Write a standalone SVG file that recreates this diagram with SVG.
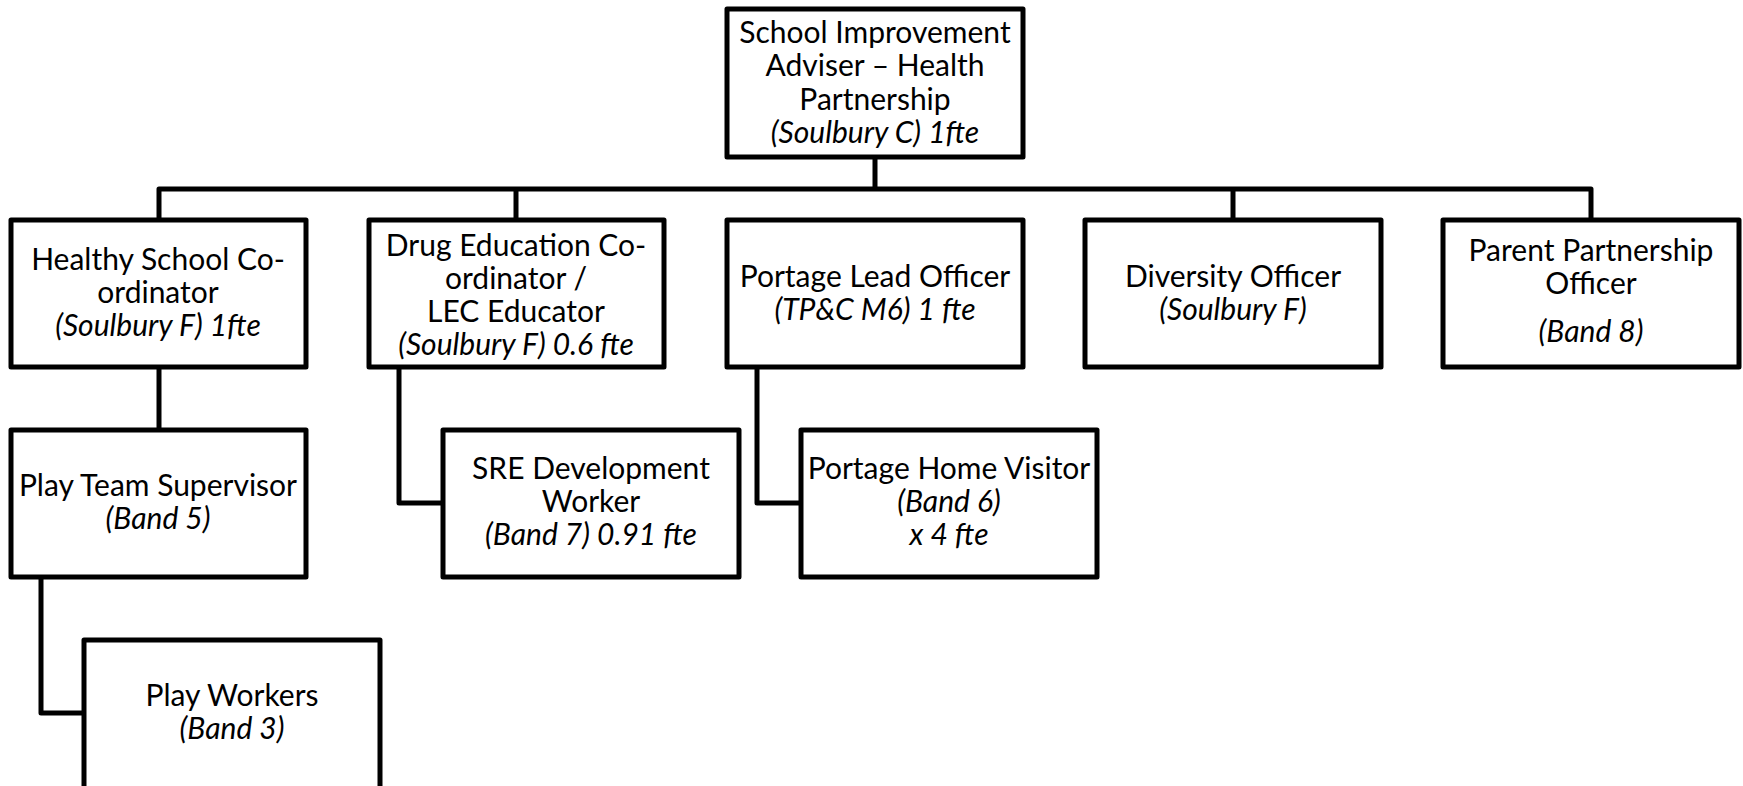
<svg xmlns="http://www.w3.org/2000/svg" width="1743" height="786" viewBox="0 0 1743 786">
<style>
.box{fill:#fff;stroke:#000;stroke-width:5;stroke-linejoin:round}
.ln{fill:none;stroke:#000;stroke-width:5;stroke-linejoin:round}
text{font-family:Lato,"Open Sans",sans-serif;font-size:30px;fill:#000;text-anchor:middle}
.i{font-style:italic}
</style>
<rect width="1743" height="786" fill="#fff"/>
<g id="connectors">
<path class="ln" d="M875,157 V189 M159,220 V189 H1591 V220 M516,189 V220 M1233,189 V220"/>
<path class="ln" d="M159,367 V430"/>
<path class="ln" d="M399,367 V503 H443"/>
<path class="ln" d="M757,367 V503 H801"/>
<path class="ln" d="M41,577 V713 H84"/>
</g>
<g id="n-sia">
<rect class="box" x="727" y="9" width="296" height="148"/>
<text x="875" y="43">School Improvement</text>
<text x="875" y="76">Adviser – Health</text>
<text x="875" y="110">Partnership</text>
<text x="875" y="143" class="i">(Soulbury C) 1fte</text>
</g>
<g id="n-healthy">
<rect class="box" x="11" y="220" width="295" height="147"/>
<text x="158" y="270">Healthy School Co-</text>
<text x="158" y="303">ordinator</text>
<text x="158" y="336" class="i">(Soulbury F) 1fte</text>
</g>
<g id="n-drug">
<rect class="box" x="369" y="220" width="295" height="147"/>
<text x="516" y="256">Drug Education Co-</text>
<text x="516" y="289">ordinator /</text>
<text x="516" y="322">LEC Educator</text>
<text x="516" y="355" class="i">(Soulbury F) 0.6 fte</text>
</g>
<g id="n-portage-lead">
<rect class="box" x="727" y="220" width="296" height="147"/>
<text x="875" y="287">Portage Lead Officer</text>
<text x="875" y="320" class="i">(TP&amp;C M6) 1 fte</text>
</g>
<g id="n-diversity">
<rect class="box" x="1085" y="220" width="296" height="147"/>
<text x="1233" y="287">Diversity Officer</text>
<text x="1233" y="320" class="i">(Soulbury F)</text>
</g>
<g id="n-parent">
<rect class="box" x="1443" y="220" width="296" height="147"/>
<text x="1591" y="261">Parent Partnership</text>
<text x="1591" y="294">Officer</text>
<text x="1591" y="342" class="i">(Band 8)</text>
</g>
<g id="n-pts">
<rect class="box" x="11" y="430" width="295" height="147"/>
<text x="158" y="496">Play Team Supervisor</text>
<text x="158" y="529" class="i">(Band 5)</text>
</g>
<g id="n-sre">
<rect class="box" x="443" y="430" width="296" height="147"/>
<text x="591" y="479">SRE Development</text>
<text x="591" y="512">Worker</text>
<text x="591" y="545" class="i">(Band 7) 0.91 fte</text>
</g>
<g id="n-phv">
<rect class="box" x="801" y="430" width="296" height="147"/>
<text x="949" y="479">Portage Home Visitor</text>
<text x="949" y="512" class="i">(Band 6)</text>
<text x="949" y="545" class="i">x 4 fte</text>
</g>
<g id="n-pw">
<rect class="box" x="84" y="640" width="296" height="160"/>
<text x="232" y="706">Play Workers</text>
<text x="232" y="739" class="i">(Band 3)</text>
</g>
</svg>
